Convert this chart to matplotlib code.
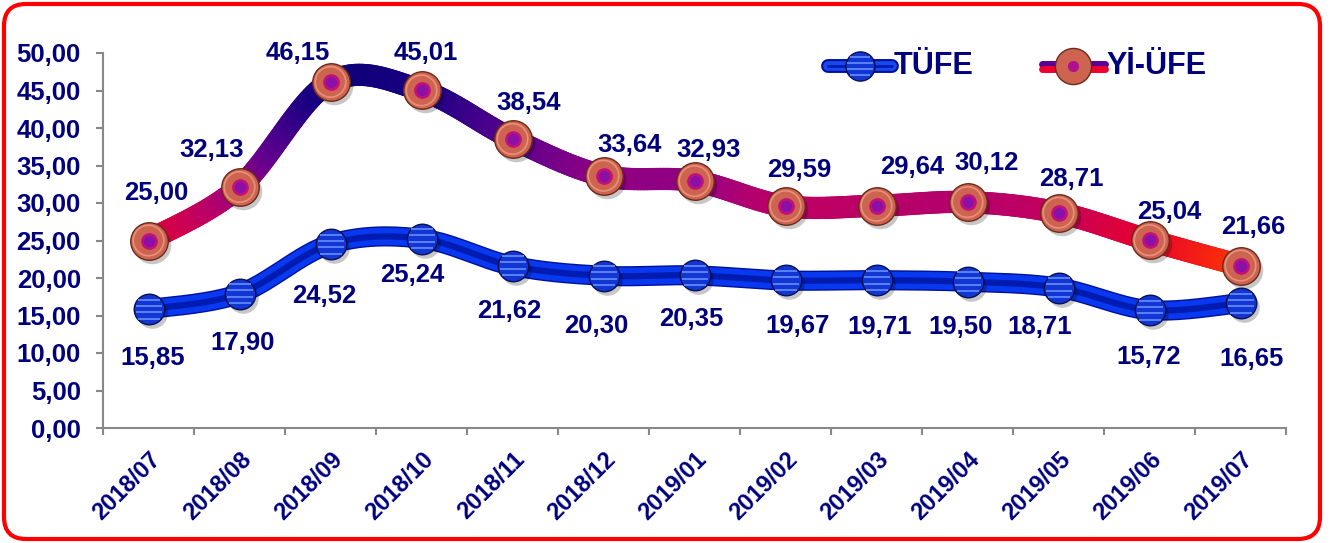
import numpy as np
import matplotlib
matplotlib.use("Agg")
import matplotlib.pyplot as plt
from matplotlib.collections import LineCollection
from matplotlib.colors import LinearSegmentedColormap, Normalize
from matplotlib.patches import FancyBboxPatch
from matplotlib.transforms import IdentityTransform, offset_copy

plt.rcParams['font.family'] = ['Liberation Sans', 'DejaVu Sans']
plt.rcParams['font.weight'] = 'bold'

months = ["2018/07", "2018/08", "2018/09", "2018/10", "2018/11", "2018/12", "2019/01",
          "2019/02", "2019/03", "2019/04", "2019/05", "2019/06", "2019/07"]
tufe = [15.85, 17.90, 24.52, 25.24, 21.62, 20.30, 20.35, 19.67, 19.71, 19.50, 18.71, 15.72, 16.65]
yiufe = [25.00, 32.13, 46.15, 45.01, 38.54, 33.64, 32.93, 29.59, 29.64, 30.12, 28.71, 25.04, 21.66]

# label nudges in pixels (dx, dy) relative to each point
tufe_nudge = [(4, -49), (3, -49), (-6, -52), (-9, -36), (-3, -45), (-7, -50), (-3, -44),
              (12, -46), (3, -47), (-7, -45), (-19, -39), (-1, -47), (11, -56)]
yiufe_nudge = [(8, 47), (-28, 37), (-33, 29), (4, 37), (16, 36), (26, 31), (14, 31),
               (14, 36), (36, 39), (19, 39), (13, 34), (20, 28), (13, 39)]

NAVY = '#00007f'
x = np.arange(len(months))


def smooth(xs, ys, sx=91.0, sy=7.5, n=30):
    # excel-like smoothed line (bezier through the points)
    p = np.column_stack([np.asarray(xs, float) * sx, np.asarray(ys, float) * sy])
    pts = np.vstack([p[0], p, p[-1]])
    out = []
    t = np.linspace(0, 1, n)[:, None]
    for i in range(1, len(pts) - 2):
        p0, p1, p2, p3 = pts[i - 1], pts[i], pts[i + 1], pts[i + 2]
        c1 = p1 + (p2 - p0) / 6
        c2 = p2 - (p3 - p1) / 6
        seg = (1 - t) ** 3 * p1 + 3 * (1 - t) ** 2 * t * c1 + 3 * (1 - t) * t ** 2 * c2 + t ** 3 * p2
        out.append(seg if i == 1 else seg[1:])
    c = np.vstack(out)
    return c[:, 0] / sx, c[:, 1] / sy


def striped_ball(ax, xs, ys, diam, transform, zorder=4):
    # blue sphere with light horizontal stripes
    ax.scatter(xs, ys, s=diam ** 2, color='#1236d4', edgecolors='#0a1050', linewidths=1,
               transform=transform, zorder=zorder, clip_on=False)
    r = diam / 0.72 / 2  # radius in pixels
    for dy in (-0.62, -0.22, 0.22, 0.62):
        w = 2 * np.sqrt(r ** 2 - (dy * r) ** 2) * 0.72 * 0.9
        tr = offset_copy(transform, fig=ax.figure, x=0, y=dy * r, units='dots')
        ax.scatter(xs, ys, s=w ** 2, marker='_', color='#5a82fa', linewidths=1.4,
                   transform=tr, zorder=zorder + 1, clip_on=False)


fig = plt.figure(figsize=(13.37, 5.43), dpi=100)
ax = fig.add_axes([103 / 1337, 115 / 543, 1183 / 1337, 375 / 543])
ax.set_xlim(-0.5, 12.5)
ax.set_ylim(0, 50)

# TÜFE tube
tx, ty = smooth(x, tufe)
ax.plot(tx, ty, color='#00109a', lw=14.5, solid_capstyle='round', zorder=2)
ax.plot(tx, ty, color='#0838f0', lw=12.5, solid_capstyle='round', zorder=2)
ax.plot(tx, ty, color='#001cb0', lw=4.5, solid_capstyle='round', zorder=2)

# Yİ-ÜFE gradient line
cmap = LinearSegmentedColormap.from_list('yiufe', [
    (0.0, '#ff3a00'), (0.15, '#e6002e'), (0.30, '#c4005e'), (0.42, '#a0007e'),
    (0.62, '#62008e'), (0.90, '#1c0082'), (1.0, '#10007a')])
norm = Normalize(21, 47)
yx, yy = smooth(x, yiufe)
pts = np.column_stack([yx, yy]).reshape(-1, 1, 2)
segs = np.concatenate([pts[:-1], pts[1:]], axis=1)
lc = LineCollection(segs, colors=cmap(norm((yy[:-1] + yy[1:]) / 2)), linewidths=16,
                    capstyle='round', zorder=2)
ax.add_collection(lc)

# markers with soft shadow
shadow = offset_copy(ax.transData, fig=fig, x=3, y=-4, units='dots')
ax.scatter(x, tufe, s=22 ** 2, color='#000000', alpha=0.22, lw=0, transform=shadow, zorder=3, clip_on=False)
ax.scatter(x, yiufe, s=27 ** 2, color='#000000', alpha=0.22, lw=0, transform=shadow, zorder=3, clip_on=False)

striped_ball(ax, x, tufe, 22, ax.transData)

ax.scatter(x, yiufe, s=27 ** 2, color='#cc6450', edgecolors='#6a2a1a', linewidths=1, zorder=4, clip_on=False)
ax.scatter(x, yiufe, s=22 ** 2, facecolors='none', edgecolors='#e8907a', linewidths=1.2, zorder=4, clip_on=False)
ax.scatter(x, yiufe, s=12 ** 2, color='#c0107a', linewidths=0, zorder=5, clip_on=False)
ax.scatter(x, yiufe, s=8 ** 2, color='#8a10a8', linewidths=0, zorder=5, clip_on=False)

# data labels
for i in range(len(months)):
    ax.annotate(f"{tufe[i]:.2f}".replace('.', ','), (x[i], tufe[i]),
                xytext=(tufe_nudge[i][0] * 0.72, tufe_nudge[i][1] * 0.72), textcoords='offset points',
                ha='center', va='center', fontsize=18.5, fontweight='bold', color=NAVY, zorder=7)
    ax.annotate(f"{yiufe[i]:.2f}".replace('.', ','), (x[i], yiufe[i]),
                xytext=(yiufe_nudge[i][0] * 0.72, yiufe_nudge[i][1] * 0.72), textcoords='offset points',
                ha='center', va='center', fontsize=18.5, fontweight='bold', color=NAVY, zorder=7)

# axes styling
for s in ['top', 'right']:
    ax.spines[s].set_visible(False)
for s in ['left', 'bottom']:
    ax.spines[s].set_color('#888888')
    ax.spines[s].set_linewidth(1.5)

ax.set_yticks(np.arange(0, 51, 5))
ax.set_yticklabels([f"{v:.2f}".replace('.', ',') for v in np.arange(0, 51, 5)])
ax.tick_params(axis='y', length=5, width=1.5, color='#888888', pad=11,
               labelsize=18.5, labelcolor=NAVY)

ax.set_xticks(x)
ax.set_xticklabels(months, rotation=45, ha='right', rotation_mode='anchor')
ax.set_xticks(np.arange(-0.5, 13, 1), minor=True)
ax.tick_params(axis='x', which='major', length=0, pad=14, labelsize=17, labelcolor=NAVY)
ax.tick_params(axis='x', which='minor', length=5, width=1.5, color='#888888')
for lab in ax.get_xticklabels() + ax.get_yticklabels():
    lab.set_fontweight('bold')

# legend drawn by hand
ly = 0.965
ax.plot([0.613, 0.667], [ly, ly], transform=ax.transAxes, color='#00109a', lw=10,
        solid_capstyle='round', clip_on=False)
ax.plot([0.613, 0.667], [ly, ly], transform=ax.transAxes, color='#1848f0', lw=7,
        solid_capstyle='round', clip_on=False)
ax.plot([0.613, 0.667], [ly, ly], transform=ax.transAxes, color='#001cb0', lw=2,
        solid_capstyle='round', clip_on=False)
striped_ball(ax, [0.640], [ly], 21, ax.transAxes, zorder=5)
ax.text(0.668, ly, "TÜFE", transform=ax.transAxes, ha='left', va='center',
        fontsize=22, fontweight='bold', color=NAVY)

ax.plot([0.794, 0.847], [ly + 0.007, ly + 0.007], transform=ax.transAxes, color='#5a0098', lw=5,
        solid_capstyle='round', clip_on=False)
ax.plot([0.794, 0.847], [ly - 0.007, ly - 0.007], transform=ax.transAxes, color='#f00030', lw=5,
        solid_capstyle='round', clip_on=False)
ax.scatter([0.820], [ly], transform=ax.transAxes, s=26 ** 2, color='#cc6450',
           edgecolors='#6a2a1a', linewidths=1, clip_on=False, zorder=5)
ax.scatter([0.820], [ly], transform=ax.transAxes, s=8 ** 2, color='#b0108c',
           linewidths=0, clip_on=False, zorder=6)
ax.text(0.848, ly, "Yİ-ÜFE", transform=ax.transAxes, ha='left', va='center',
        fontsize=22, fontweight='bold', color=NAVY)

# red rounded frame
frame = FancyBboxPatch((4, 4), 1316, 535, boxstyle="round,pad=0,rounding_size=22",
                       transform=IdentityTransform(), fill=False, edgecolor='#ff0000', lw=3)
fig.patches.append(frame)

fig.savefig("out.png", dpi=100)
